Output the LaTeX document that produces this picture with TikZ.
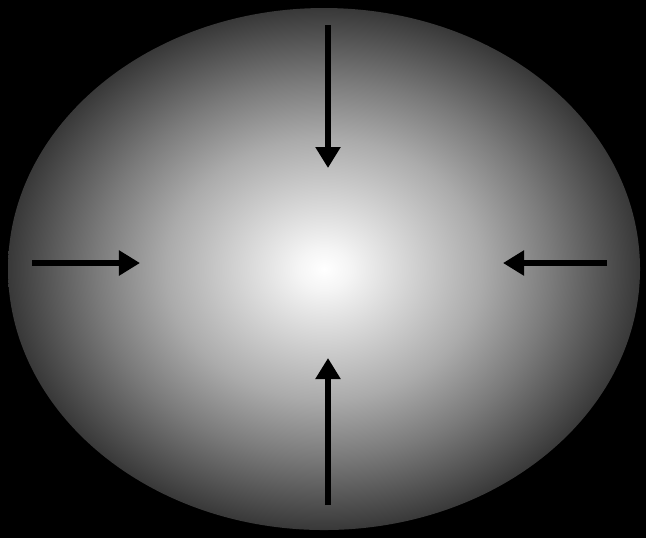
\documentclass[tikz,border=0pt]{standalone}
\usetikzlibrary{arrows.meta}

% soft glow, white in the middle, dark grey at the rim
\pgfdeclareradialshading{glow}{\pgfpoint{0bp}{0bp}}{%
  color(0bp)=(white); color(2bp)=(white!96!black); color(12.5bp)=(black!33);
  color(18bp)=(black!52); color(25bp)=(black!78); color(50bp)=(black!78)}

\begin{document}
\begin{tikzpicture}[
    x=0.01cm, y=-0.01cm,
    push/.style={-{Triangle[length=2.1mm, width=2.4mm]}, line width=0.06cm, black}
  ]
  % frame
  \fill[black] (0,0) rectangle (646,538);
  \useasboundingbox (0,0) rectangle (646,538);

  % the body
  \shade[shading=glow] (324,269) ellipse [x radius=316, y radius=261];

  % arrow ends
  \coordinate (topTail) at (328,25);
  \coordinate (topTip) at (328,168);
  \coordinate (botTail) at (328,505);
  \coordinate (botTip) at (328,358);
  \coordinate (leftTail) at (32,263);
  \coordinate (leftTip) at (140,263);
  \coordinate (rightTail) at (607,263);
  \coordinate (rightTip) at (503,263);

  % inward pushes
  \draw[push] (topTail) -- (topTip);
  \draw[push] (botTail) -- (botTip);
  \draw[push] (leftTail) -- (leftTip);
  \draw[push] (rightTail) -- (rightTip);
\end{tikzpicture}
\end{document}
